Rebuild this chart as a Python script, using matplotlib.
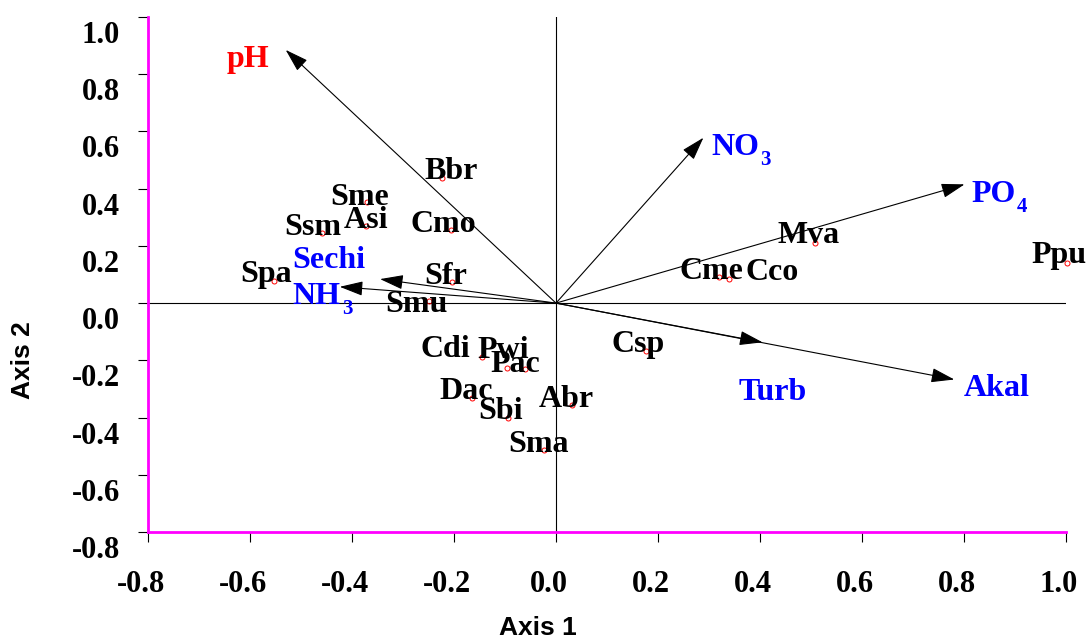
import matplotlib
matplotlib.use("Agg")
import matplotlib.pyplot as plt
from matplotlib.transforms import ScaledTranslation

# ---- ordination scores -------------------------------------------------------
species = ["Sme", "Asi", "Ssm", "Spa", "Bbr", "Cmo", "Sfr", "Smu", "Cdi", "Pwi",
           "Pac", "Dac", "Sbi", "Abr", "Sma", "Csp", "Cme", "Cco", "Mva", "Ppu"]
sp_axis1 = [-0.371, -0.373, -0.459, -0.553, -0.224, -0.205, -0.203, -0.250, -0.146, -0.097,
            -0.061, -0.164, -0.094, 0.032, -0.023, 0.176, 0.320, 0.339, 0.508, 1.001]
sp_axis2 = [0.354, 0.270, 0.244, 0.077, 0.436, 0.255, 0.074, 0.008, -0.190, -0.226,
            -0.231, -0.333, -0.403, -0.357, -0.514, -0.167, 0.090, 0.086, 0.209, 0.139]

env_vars = ["pH", "NO3", "PO4", "Turb", "Akal", "Sechi", "NH3"]
env_main = ["pH", "NO", "PO", "Turb", "Akal", "Sechi", "NH"]
env_sub = ["", "3", "4", "", "", "", "3"]
env_axis1 = [-0.530, 0.289, 0.801, 0.405, 0.781, -0.345, -0.424]
env_axis2 = [0.885, 0.578, 0.415, -0.137, -0.267, 0.084, 0.057]
env_colors = ["#FF0000", "#0000FF", "#0000FF", "#0000FF", "#0000FF", "#0000FF", "#0000FF"]

ticks = [-0.8, -0.6, -0.4, -0.2, 0.0, 0.2, 0.4, 0.6, 0.8, 1.0]
tick_labels = ["-0.8", "-0.6", "-0.4", "-0.2", "0.0", "0.2", "0.4", "0.6", "0.8", "1.0"]

# label placement (pixels: right, down) relative to the plotted point / arrow tip
sp_nudge = {"Sme": (-7, 3), "Asi": (0, 2), "Ssm": (-9, 2), "Spa": (-8, 1), "Bbr": (9, 1),
            "Cmo": (-8, 2), "Sfr": (-7, 2), "Smu": (-12, 11), "Cdi": (-36, 0), "Pwi": (-3, -10),
            "Pac": (-10, 3), "Dac": (-6, 1), "Sbi": (-7, 1), "Abr": (-6, 2), "Sma": (-6, 2),
            "Csp": (-8, 1), "Cme": (-8, 2), "Cco": (43, 1), "Mva": (-7, 0), "Ppu": (-8, 0)}
env_nudge = {"pH": (-59, 17), "NO3": (8, 17), "PO4": (7, 18), "Turb": (-24, 58),
             "Akal": (9, 16), "Sechi": (-88, -11), "NH3": (-47, 17)}
SUB_DROP = 10  # pixels the subscript baseline sits below the label baseline

# ---- styling -----------------------------------------------------------------
SERIF = "Liberation Serif"
MAGENTA = "#FF00FF"

fig = plt.figure(figsize=(10.89, 6.41), dpi=100)
ax = fig.add_axes([148 / 1089, 1 - 532 / 641, 918 / 1089, 515 / 641])
ax.set_xlim(-0.8, 1.0)
ax.set_ylim(-0.8, 1.0)

for side in ("top", "right"):
    ax.spines[side].set_visible(False)
for side in ("left", "bottom"):
    ax.spines[side].set_color(MAGENTA)
    ax.spines[side].set_linewidth(2.0)

ax.set_xticks(ticks)
ax.set_xticklabels(tick_labels)
ax.set_yticks(ticks)
ax.set_yticklabels(tick_labels)
ax.tick_params(direction="out", length=7.2, width=0.8, color="black")
ax.tick_params(axis="y", pad=13)
ax.tick_params(axis="x", pad=20)
for lab in ax.get_xticklabels() + ax.get_yticklabels():
    lab.set_fontfamily(SERIF)
    lab.set_fontweight("bold")
    lab.set_fontsize(22)
for lab in ax.get_yticklabels():
    lab.set_transform(lab.get_transform() + ScaledTranslation(0, -0.15, fig.dpi_scale_trans))
for lab in ax.get_xticklabels():
    lab.set_transform(lab.get_transform() + ScaledTranslation(-0.07, 0, fig.dpi_scale_trans))

# zero lines through the origin
ax.axhline(0, color="black", lw=0.8, zorder=1)
ax.axvline(0, color="black", lw=0.8, zorder=1)

# environmental vectors
main_texts = []
for name, lab, x, y, c in zip(env_vars, env_main, env_axis1, env_axis2, env_colors):
    ax.annotate("", xy=(x, y), xytext=(0, 0),
                arrowprops=dict(arrowstyle="-|>,head_length=0.8,head_width=0.25",
                                color="black", lw=0.8, shrinkA=0, shrinkB=0,
                                mutation_scale=18), zorder=2)
    dx, dy = env_nudge[name]
    t = ax.annotate(lab, xy=(x, y), xytext=(dx, -dy), textcoords="offset pixels",
                    ha="left", va="baseline", color=c, fontsize=23,
                    fontfamily=SERIF, fontweight="bold", zorder=4, annotation_clip=False)
    main_texts.append(t)

# species scores
ax.plot(sp_axis1, sp_axis2, linestyle="none", marker="o", markersize=3.6,
        markerfacecolor="none", markeredgecolor="red", markeredgewidth=0.7,
        zorder=3, clip_on=False)
for name, x, y in zip(species, sp_axis1, sp_axis2):
    dx, dy = sp_nudge[name]
    ax.annotate(name, xy=(x, y), xytext=(dx, -dy), textcoords="offset pixels",
                ha="center", va="baseline", color="black", fontsize=23,
                fontfamily=SERIF, fontweight="bold", zorder=4, annotation_clip=False)

fig.text(538 / 1089, 1 - 628 / 641, "Axis 1", ha="center", va="center",
         fontsize=19, fontweight="bold", fontfamily="Liberation Sans")
fig.text(23 / 1089, 1 - 360 / 641, "Axis 2", ha="center", va="center", rotation=90,
         fontsize=19, fontweight="bold", fontfamily="Liberation Sans")

# chemical subscripts, set just after the end of each formula
fig.canvas.draw()
renderer = fig.canvas.get_renderer()
for name, sub, x, y, c, t in zip(env_vars, env_sub, env_axis1, env_axis2, env_colors, main_texts):
    if not sub:
        continue
    bb = t.get_window_extent(renderer)
    tip = ax.transData.transform((x, y))
    dx, dy = env_nudge[name]
    sub_x = bb.x1 - tip[0] + 1
    ax.annotate(sub, xy=(x, y), xytext=(sub_x, -dy - SUB_DROP), textcoords="offset pixels",
                ha="left", va="baseline", color=c, fontsize=15,
                fontfamily=SERIF, fontweight="bold", zorder=4, annotation_clip=False)

fig.savefig("out.png", dpi=100)
